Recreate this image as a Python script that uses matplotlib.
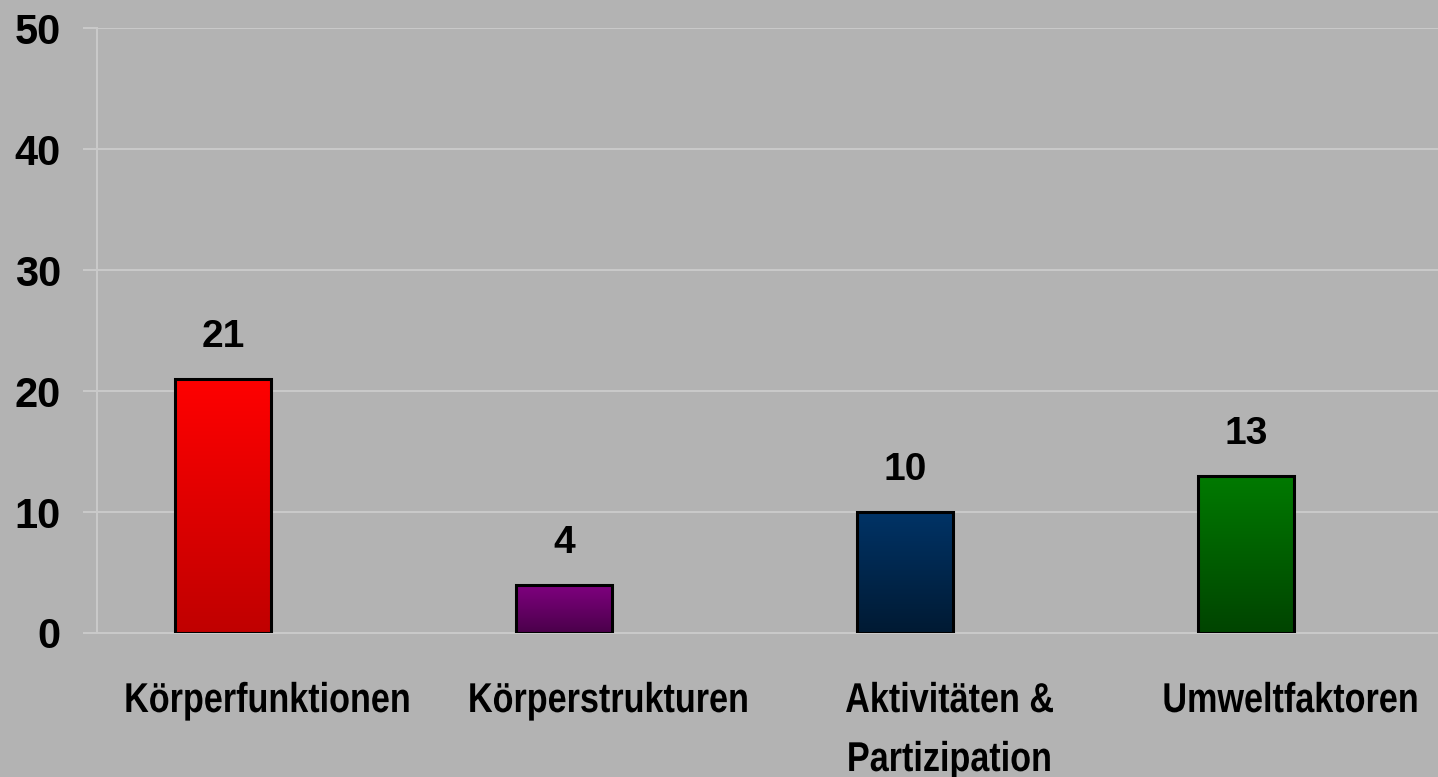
import numpy as np
import matplotlib.pyplot as plt
from matplotlib.colors import LinearSegmentedColormap
from matplotlib.textpath import TextPath
from matplotlib.patches import PathPatch
from matplotlib.font_manager import FontProperties
from matplotlib.transforms import Affine2D, IdentityTransform

# data
categories = ["Körperfunktionen", "Körperstrukturen", "Aktivitäten &\nPartizipation", "Umweltfaktoren"]
values = [21, 4, 10, 13]
top_colors = ["#ff0000", "#800080", "#003366", "#007a00"]
bottom_colors = ["#c00000", "#4a004a", "#001a33", "#004400"]
yticks = [0, 10, 20, 30, 40, 50]

bg = "#b3b3b3"
grid_c = "#c9c9c9"
DPI = 100

fig = plt.figure(figsize=(14.38, 7.77), dpi=DPI, facecolor=bg)
ax = fig.add_axes([97/1438, 144/777, (1461-97)/1438, 605/777])
ax.set_facecolor(bg)

x = np.arange(len(categories))
offset = -0.13
width = 0.28

bars = ax.bar(x + offset, values, width, facecolor="none", edgecolor="black",
              linewidth=2.2, zorder=4)

for b, c_top, c_bot in zip(bars, top_colors, bottom_colors):
    cmap = LinearSegmentedColormap.from_list("g", [c_bot, c_top])
    x0, y0 = b.get_x(), b.get_y()
    w, h = b.get_width(), b.get_height()
    grad = np.linspace(0, 1, 256).reshape(-1, 1)
    im = ax.imshow(grad, cmap=cmap, origin="lower", aspect="auto",
                   extent=[x0, x0 + w, y0, y0 + h], zorder=3)
    im.set_clip_path(b)

for xi, v in zip(x, values):
    ax.annotate(str(v), (xi + offset, v), xytext=(0, 17), textcoords="offset points",
                ha="center", va="bottom", fontsize=28, fontweight="bold",
                family=["Liberation Sans", "DejaVu Sans"])

ax.set_xlim(-0.5, 3.5)
ax.set_ylim(0, 50)
ax.set_yticks(yticks)
ax.set_xticks(x)
ax.set_xticklabels([""] * len(x))
for t in ax.get_yticklabels():
    t.set_fontsize(30)
    t.set_fontweight("bold")
    t.set_family(["Liberation Sans", "DejaVu Sans"])

ax.yaxis.grid(True, color=grid_c, linewidth=1.5, zorder=0)
ax.set_axisbelow(True)
ax.tick_params(axis="y", length=10, width=1.5, color=grid_c, pad=16)
ax.tick_params(axis="x", length=0)
for s in ["top", "right"]:
    ax.spines[s].set_visible(False)
for s in ["left", "bottom"]:
    ax.spines[s].set_color(grid_c)
    ax.spines[s].set_linewidth(1.5)

# category labels: bold, horizontally condensed (narrow face look)
prop = FontProperties(family="Liberation Sans", weight="bold")
size_px = 30 * DPI / 72
squeeze = 0.82
base0 = 777 - 712   # first baseline, display px
line_gap = 59
for xi, label in zip(x, categories):
    cx = ax.transData.transform((xi, 0))[0]
    for k, line in enumerate(label.split("\n")):
        tp = TextPath((0, 0), line, size=size_px, prop=prop)
        ext = tp.get_extents()
        wpx = (ext.x0 + ext.x1) / 2
        tr = Affine2D().translate(-wpx, 0).scale(squeeze, 1).translate(cx, base0 - k * line_gap)
        patch = PathPatch(tr.transform_path(tp), facecolor="black", edgecolor="none",
                          transform=IdentityTransform())
        fig.add_artist(patch)

fig.savefig("out.png", dpi=DPI, facecolor=bg)
